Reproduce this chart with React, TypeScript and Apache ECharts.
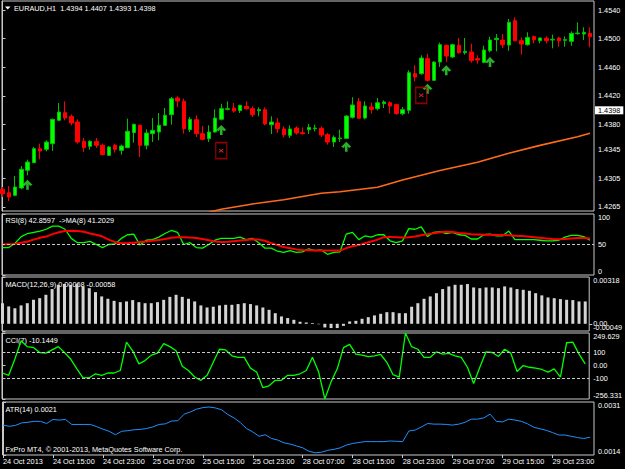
import React, { useEffect, useRef } from 'react';
import * as echarts from 'echarts';

const FONT = '"Liberation Sans", Arial, Helvetica, sans-serif';
const FS = 7.3;

// ---------- texts ----------
const symbolName = 'EURAUD,H1';
const headerQuote = [1.4394, 1.4407, 1.4393, 1.4398];
const rsiHeader = ['42.8597', '41.2029'];
const macdHeader = ['0.00068', '-0.00058'];
const cciHeader = '-10.1449';
const atrHeader = '0.0021';
const copyright = 'FxPro MT4, \u00A9 2001-2013, MetaQuotes Software Corp.';

// ---------- time axis ----------
const timeLabels = [
  '24 Oct 2013', '24 Oct 15:00', '24 Oct 23:00', '25 Oct 07:00', '25 Oct 15:00', '25 Oct 23:00',
  '28 Oct 07:00', '28 Oct 15:00', '28 Oct 23:00', '29 Oct 07:00', '29 Oct 15:00', '29 Oct 23:00',
];
const timeLabelBars = [0, 8, 16, 24, 32, 40, 48, 56, 64, 72, 80, 88];

// ---------- candles (H1) ----------
const opens = [
  1.42897, 1.42850, 1.42813, 1.42915, 1.43162, 1.43269, 1.43464, 1.43455, 1.43534, 1.43860,
  1.43967, 1.43916, 1.43837, 1.43567, 1.43497, 1.43562, 1.43511, 1.43371, 1.43511, 1.43441,
  1.43478, 1.43688, 1.43790, 1.43511, 1.43674, 1.43697, 1.43790, 1.43939, 1.44172, 1.44125,
  1.43730, 1.43869, 1.43674, 1.43604, 1.43697, 1.43874, 1.44013, 1.44032, 1.43995, 1.44055,
  1.44023, 1.43995, 1.44009, 1.43799, 1.43823, 1.43739, 1.43650, 1.43753, 1.43688, 1.43729,
  1.43743, 1.43748, 1.43660, 1.43557, 1.43604, 1.43608, 1.43902, 1.44120, 1.43892, 1.44046,
  1.44023, 1.44093, 1.44106, 1.44079, 1.43953, 1.43999, 1.44511, 1.44511, 1.44721, 1.44418,
  1.44674, 1.44907, 1.44744, 1.44907, 1.44804, 1.44814, 1.44721, 1.44670, 1.44832, 1.44986,
  1.44981, 1.44911, 1.45251, 1.44972, 1.44916, 1.45028, 1.44972, 1.45005, 1.44981, 1.45009,
  1.44977, 1.44963, 1.45070, 1.45065, 1.45074,
];
const highs = [
  1.42929, 1.42943, 1.43083, 1.43222, 1.43311, 1.43488, 1.43534, 1.43581, 1.43883, 1.44102,
  1.44125, 1.43944, 1.43874, 1.43613, 1.43581, 1.43613, 1.43534, 1.43502, 1.43534, 1.43520,
  1.43883, 1.43813, 1.43799, 1.43734, 1.43892, 1.43962, 1.44032, 1.44185, 1.44195, 1.44162,
  1.43906, 1.43930, 1.43781, 1.43790, 1.44013, 1.44092, 1.44125, 1.44102, 1.44078, 1.44125,
  1.44055, 1.44041, 1.44041, 1.43916, 1.43892, 1.43776, 1.43790, 1.43776, 1.43762, 1.43809,
  1.43799, 1.43776, 1.43683, 1.43650, 1.43729, 1.43930, 1.44181, 1.44172, 1.44125, 1.44106,
  1.44172, 1.44139, 1.44125, 1.44093, 1.44046, 1.44558, 1.44628, 1.44767, 1.44790, 1.44684,
  1.44944, 1.44916, 1.44930, 1.45009, 1.45009, 1.44930, 1.44767, 1.44902, 1.45028, 1.45065,
  1.45065, 1.45274, 1.45298, 1.45018, 1.45088, 1.45042, 1.45018, 1.45032, 1.45056, 1.45028,
  1.45032, 1.45102, 1.45228, 1.45158, 1.45158,
];
const lows = [
  1.42790, 1.42734, 1.42799, 1.42897, 1.43092, 1.43264, 1.43316, 1.43427, 1.43432, 1.43855,
  1.43860, 1.43790, 1.43534, 1.43418, 1.43450, 1.43474, 1.43371, 1.43362, 1.43409, 1.43381,
  1.43474, 1.43548, 1.43348, 1.43455, 1.43557, 1.43581, 1.43781, 1.43799, 1.44046, 1.43674,
  1.43697, 1.43627, 1.43581, 1.43557, 1.43688, 1.43860, 1.43999, 1.43967, 1.43962, 1.44009,
  1.43906, 1.43916, 1.43790, 1.43669, 1.43683, 1.43623, 1.43613, 1.43660, 1.43660, 1.43669,
  1.43706, 1.43627, 1.43520, 1.43488, 1.43557, 1.43604, 1.43883, 1.43883, 1.43874, 1.43953,
  1.43999, 1.44032, 1.43953, 1.43939, 1.43930, 1.43953, 1.44404, 1.44497, 1.44404, 1.44409,
  1.44604, 1.44674, 1.44730, 1.44790, 1.44777, 1.44665, 1.44651, 1.44656, 1.44809, 1.44823,
  1.44870, 1.44832, 1.44963, 1.44777, 1.44902, 1.44935, 1.44935, 1.44935, 1.44865, 1.44888,
  1.44888, 1.44902, 1.45056, 1.44981, 1.44879,
];
const closes = [
  1.42836, 1.42790, 1.42929, 1.43176, 1.43278, 1.43464, 1.43432, 1.43557, 1.43874, 1.43976,
  1.43892, 1.43823, 1.43557, 1.43478, 1.43567, 1.43511, 1.43381, 1.43488, 1.43455, 1.43501,
  1.43706, 1.43804, 1.43511, 1.43683, 1.43720, 1.43790, 1.43930, 1.44162, 1.44130, 1.43744,
  1.43874, 1.43674, 1.43595, 1.43697, 1.43892, 1.44023, 1.44023, 1.43990, 1.44069, 1.44023,
  1.43939, 1.44009, 1.43809, 1.43836, 1.43743, 1.43660, 1.43739, 1.43683, 1.43674, 1.43762,
  1.43753, 1.43655, 1.43557, 1.43622, 1.43613, 1.43920, 1.44074, 1.43888, 1.44060, 1.44013,
  1.44106, 1.44116, 1.44060, 1.43953, 1.44009, 1.44525, 1.44465, 1.44730, 1.44418, 1.44674,
  1.44916, 1.44758, 1.44916, 1.44804, 1.44823, 1.44697, 1.44702, 1.44842, 1.44981, 1.45005,
  1.44916, 1.45228, 1.44972, 1.44925, 1.45018, 1.44986, 1.45009, 1.44972, 1.44991, 1.44972,
  1.44986, 1.45074, 1.45079, 1.45088, 1.45028,
];

// moving average (orange), points read as [bar, price]
const maPoints = [
  [33, 1.42575], [35, 1.42618], [40, 1.42692], [45, 1.42750], [51, 1.42841], [54, 1.42863],
  [60, 1.42925], [64, 1.43027], [70, 1.43160], [76, 1.43274], [81, 1.43400], [86, 1.43510],
  [92, 1.43631], [94, 1.43679],
];
// signal arrows and close marks [bar, price]
const buyArrows = [[4, 1.42961], [35, 1.43725], [55, 1.43492], [68, 1.44301], [71, 1.44558], [78, 1.44674]];
const closeMarks = [[35, 1.43436], [67, 1.44209]];

// ---------- indicators ----------
const rsiValues = [
  45, 45, 52, 63, 68, 70, 72, 75, 80, 80, 75, 60, 53, 53, 55, 50, 45, 50, 51, 60,
  66, 67, 49, 57, 58, 62, 68, 73, 70, 50, 53, 45, 44, 50, 57, 60, 60, 60, 62, 58,
  60, 53, 44, 44, 39, 37, 40, 37, 38, 43, 40, 41, 34, 37, 38, 67, 70, 58, 64, 62,
  66, 66, 56, 53, 56, 76, 75, 79, 63, 70, 71, 68, 70, 66, 65, 59, 59, 66, 67, 64,
  64, 72, 58, 58, 58, 58, 57, 56, 56, 57, 62, 65, 65, 63, 57,
];
const rsiMaValues = [
  50, 50.5, 51, 53, 55, 58, 61, 63, 67, 70, 72, 72.5, 72, 71, 68, 66, 63, 58, 54, 52,
  52, 53, 54, 55, 56, 57.5, 59, 61, 62, 62, 61.5, 60.5, 59, 57, 55, 54, 54.5, 55.5, 56.5, 57.5,
  58.5, 58, 56, 52, 49, 46, 44, 42, 41, 40.5, 40, 40, 40, 40, 40, 44, 47, 49, 52, 55,
  58, 62, 62.5, 62, 61.5, 62, 63, 65, 67, 68.5, 70, 71, 70.5, 69, 68, 67, 66.5, 66, 66, 65.5,
  65.5, 65, 64.5, 64, 63, 62, 61, 60, 59, 58.5, 59, 60, 60.5, 60.5, 60,
];
const rsiLevels = [50];
const macdValues = [
  0.00140, 0.00118, 0.00106, 0.00125, 0.00140, 0.00163, 0.00174, 0.00197, 0.00236, 0.00265,
  0.00270, 0.00265, 0.00270, 0.00254, 0.00242, 0.00215, 0.00186, 0.00170, 0.00156, 0.00147,
  0.00152, 0.00161, 0.00147, 0.00140, 0.00140, 0.00147, 0.00163, 0.00183, 0.00197, 0.00183,
  0.00170, 0.00152, 0.00125, 0.00111, 0.00116, 0.00125, 0.00129, 0.00129, 0.00134, 0.00140,
  0.00134, 0.00125, 0.00111, 0.00095, 0.00072, 0.00050, 0.00039, 0.00027, 0.00014, 0.00009,
  0.00005, -0.00003, -0.00025, -0.00029, -0.00029, -0.00014, 0.00016, 0.00020, 0.00034, 0.00045,
  0.00057, 0.00068, 0.00079, 0.00079, 0.00072, 0.00072, 0.00116, 0.00140, 0.00170, 0.00186,
  0.00208, 0.00236, 0.00254, 0.00265, 0.00265, 0.00270, 0.00247, 0.00242, 0.00247, 0.00247,
  0.00242, 0.00254, 0.00247, 0.00236, 0.00231, 0.00224, 0.00208, 0.00193, 0.00179, 0.00174,
  0.00168, 0.00163, 0.00161, 0.00152, 0.00152,
];
const cciValues = [
  -57, -75, 50, 190, 145, 138, 100, 95, 120, 145, 100, 50, -25, -95, -93, -63, -75, -57, -57, -38,
  180, 113, 13, 38, 80, 95, 168, 145, 113, -5, -38, -88, -113, -75, 25, 125, 120, 75, 63, 63,
  -20, -50, -170, -155, -113, -113, -75, -75, -63, -38, 63, -50, -256.331, -125, -25, 138, 163, 88, 80, 68,
  75, 85, 25, -70, -88, 249.629, 145, 125, 63, 63, 105, 88, 93, 75, 63, -13, -138, -13, 105, 100,
  70, 125, 95, -45, 0, -13, -20, -30, -50, -25, -88, 175, 180, 88, 13,
];
const cciLevels = [100, -100];
const atrValues = [
  0.00236, 0.00232, 0.00235, 0.00243, 0.00245, 0.00248, 0.00248, 0.00241, 0.00254, 0.00252,
  0.00254, 0.00238, 0.00238, 0.00238, 0.00238, 0.00231, 0.00223, 0.00216, 0.00205, 0.00216,
  0.00218, 0.00221, 0.00222, 0.00225, 0.00230, 0.00238, 0.00240, 0.00249, 0.00250, 0.00271,
  0.00278, 0.00287, 0.00292, 0.00294, 0.00291, 0.00285, 0.00270, 0.00259, 0.00244, 0.00225,
  0.00214, 0.00200, 0.00205, 0.00193, 0.00188, 0.00179, 0.00175, 0.00169, 0.00163, 0.00152,
  0.00147, 0.00149, 0.00155, 0.00158, 0.00163, 0.00172, 0.00177, 0.00180, 0.00183, 0.00183,
  0.00183, 0.00183, 0.00185, 0.00184, 0.00183, 0.00217, 0.00220, 0.00230, 0.00241, 0.00239,
  0.00239, 0.00238, 0.00236, 0.00239, 0.00245, 0.00255, 0.00255, 0.00259, 0.00271, 0.00248,
  0.00246, 0.00255, 0.00252, 0.00248, 0.00240, 0.00229, 0.00224, 0.00219, 0.00212, 0.00204,
  0.00204, 0.00200, 0.00196, 0.00193, 0.00197,
];

// ---------- tick labels ----------
const priceTicks = [1.4265, 1.4305, 1.4345, 1.4380, 1.4420, 1.4460, 1.4500, 1.4540];
const rsiTicks = [0, 50, 100];
const rsiTickLabels = ['0', '50', '100'];
const macdTicks = [-0.00049, 0.00318];
const macdTickLabels = ['-0.00049', '0.00318'];
const macdZeroTick = [0];
const macdZeroLabel = ['0.00'];
const cciTicks = [-256.331, -100, 0, 100, 249.629];
const cciTickLabels = ['-256.331', '-100', '0.00', '100', '249.629'];
const atrTicks = [0.0014, 0.0031];
const atrTickLabels = ['0.0014', '0.0031'];

// ---------- layout ----------
const GRID_LEFT = 2;
const GRID_W = 592;
const X_MIN = -0.08;
const X_MAX = 94.64;
const PANELS = [
  { top: 1, height: 210 },
  { top: 214, height: 61 },
  { top: 277, height: 54 },
  { top: 333, height: 66 },
  { top: 402, height: 53 },
];
const PRICE_MIN = 1.42594;
const PRICE_MAX = 1.45526;
const FG = '#c8c8c8';

const labelFmt = (vals: number[], labels: string[]) => (v: number) => {
  const k = vals.findIndex((x) => Math.abs(x - v) < 1e-7);
  return k >= 0 ? labels[k] : '';
};

const idx = (arr: number[]) => arr.map((v, i) => [i, v]);

function buildOption() {
  const grid = PANELS.map((p) => ({
    left: GRID_LEFT,
    width: GRID_W,
    top: p.top,
    height: p.height,
    show: true,
    borderColor: FG,
    borderWidth: 1,
    backgroundColor: 'transparent',
    containLabel: false,
  }));

  const xAxis = PANELS.map((_, k) => {
    const bottom = k === PANELS.length - 1;
    return {
      type: 'value',
      gridIndex: k,
      min: X_MIN,
      max: X_MAX,
      show: bottom,
      splitLine: { show: false },
      axisLine: { show: false },
      axisTick: {
        show: bottom,
        length: 3,
        customValues: timeLabelBars,
        lineStyle: { color: FG },
      },
      axisLabel: {
        show: bottom,
        customValues: timeLabelBars,
        formatter: labelFmt(timeLabelBars, timeLabels),
        align: 'left',
        margin: 3,
        color: '#ffffff',
        fontSize: FS,
        fontFamily: FONT,
      },
    };
  });

  const yAx = (
    k: number, min: number, max: number, vals: number[], fmt: (v: number) => string,
    edgeAlign: boolean, showLine = true,
  ) => ({
    type: 'value',
    gridIndex: k,
    position: 'right',
    min,
    max,
    scale: true,
    splitLine: { show: false },
    axisLine: { show: showLine, lineStyle: { color: FG } },
    axisTick: { show: true, length: 3, customValues: vals, lineStyle: { color: FG } },
    axisLabel: {
      customValues: vals,
      formatter: fmt,
      color: '#ffffff',
      fontSize: FS,
      fontFamily: FONT,
      margin: 4,
      hideOverlap: false,
      showMinLabel: true,
      showMaxLabel: true,
      ...(edgeAlign ? { verticalAlignMinLabel: 'bottom', verticalAlignMaxLabel: 'top' } : {}),
    },
  });

  const macdMin = macdTicks[0];
  const macdMax = macdTicks[macdTicks.length - 1];
  const yAxis = [
    yAx(0, PRICE_MIN, PRICE_MAX, priceTicks, (v: number) => v.toFixed(4), false),
    yAx(1, rsiTicks[0], rsiTicks[rsiTicks.length - 1], rsiTicks, labelFmt(rsiTicks, rsiTickLabels), true),
    yAx(2, macdMin, macdMax, macdTicks, labelFmt(macdTicks, macdTickLabels), true),
    yAx(3, cciTicks[0], cciTicks[cciTicks.length - 1], cciTicks, labelFmt(cciTicks, cciTickLabels), true),
    yAx(4, atrTicks[0], atrTicks[atrTicks.length - 1], atrTicks, labelFmt(atrTicks, atrTickLabels), true),
    yAx(2, macdMin, macdMax, macdZeroTick, labelFmt(macdZeroTick, macdZeroLabel), false, false),
  ];

  const levelLine = (levels: number[]) => ({
    silent: true,
    symbol: ['none', 'none'],
    animation: false,
    label: { show: false },
    lineStyle: { color: FG, type: [3, 2], width: 1 },
    data: levels.map((l) => ({ yAxis: l })),
  });

  const series: any[] = [
    {
      type: 'line',
      name: 'MA',
      xAxisIndex: 0,
      yAxisIndex: 0,
      data: maPoints,
      symbol: 'none',
      clip: true,
      lineStyle: { color: '#ff6a1a', width: 1.6 },
      z: 2,
    },
    {
      type: 'candlestick',
      xAxisIndex: 0,
      yAxisIndex: 0,
      encode: { x: 0, y: [1, 2, 3, 4] },
      data: opens.map((o, i) => [i, o, closes[i], lows[i], highs[i]]),
      barWidth: 4,
      itemStyle: {
        color: '#00ff00',
        color0: '#ff0000',
        borderColor: '#00c000',
        borderColor0: '#ff0000',
        borderWidth: 1,
      },
      z: 3,
      markLine: {
        silent: true,
        symbol: ['none', 'none'],
        animation: false,
        lineStyle: { color: 'rgba(0,0,0,0)', width: 0 },
        label: {
          show: true,
          position: 'end',
          distance: 1,
          formatter: headerQuote[3].toFixed(4),
          color: '#000000',
          backgroundColor: '#ffffff',
          padding: [1, 3, 0, 3],
          fontSize: FS,
          fontFamily: FONT,
        },
        data: [{ yAxis: headerQuote[3] }],
      },
    },
    {
      type: 'scatter',
      xAxisIndex: 0,
      yAxisIndex: 0,
      data: buyArrows,
      symbol: 'path://M5,0L10,5L7.6,6.3L6.3,4.6L6.3,10L3.7,10L3.7,4.6L2.4,6.3L0,5Z',
      symbolSize: [10, 10],
      itemStyle: { color: '#33dd33' },
      z: 4,
    },
    {
      type: 'scatter',
      xAxisIndex: 0,
      yAxisIndex: 0,
      data: closeMarks,
      symbol: 'rect',
      symbolSize: [11, 16],
      itemStyle: { color: 'rgba(0,0,0,0)', borderColor: '#b40000', borderWidth: 1.5 },
      z: 4,
    },
    {
      type: 'scatter',
      xAxisIndex: 0,
      yAxisIndex: 0,
      data: closeMarks,
      symbol: 'path://M0,1.5L1.5,0L5,3.5L8.5,0L10,1.5L6.5,5L10,8.5L8.5,10L5,6.5L1.5,10L0,8.5L3.5,5Z',
      symbolSize: [5, 4],
      itemStyle: { color: '#ff3030' },
      z: 5,
    },
    {
      type: 'line',
      xAxisIndex: 1,
      yAxisIndex: 1,
      data: idx(rsiValues),
      symbol: 'none',
      lineStyle: { color: '#00ff00', width: 1.3 },
      markLine: levelLine(rsiLevels),
      z: 3,
    },
    {
      type: 'line',
      xAxisIndex: 1,
      yAxisIndex: 1,
      data: idx(rsiMaValues),
      symbol: 'none',
      lineStyle: { color: '#ff0000', width: 2 },
      z: 4,
    },
    {
      type: 'bar',
      xAxisIndex: 2,
      yAxisIndex: 2,
      data: idx(macdValues),
      barWidth: 3,
      itemStyle: { color: '#d4d4d4' },
      z: 3,
    },
    {
      type: 'line',
      xAxisIndex: 3,
      yAxisIndex: 3,
      data: idx(cciValues),
      symbol: 'none',
      lineStyle: { color: '#00ff00', width: 1.3 },
      markLine: levelLine(cciLevels),
      z: 3,
    },
    {
      type: 'line',
      xAxisIndex: 4,
      yAxisIndex: 4,
      data: idx(atrValues),
      symbol: 'none',
      lineStyle: { color: '#1e90ff', width: 1 },
      z: 3,
    },
  ];

  const txt = (x: number, y: number, text: string, fill = '#ffffff') => ({
    type: 'text',
    x,
    y,
    z: 1,
    silent: true,
    style: { text, fill, fontSize: FS, fontFamily: FONT, verticalAlign: 'middle', align: 'left' },
  });

  const graphic = [
    { type: 'polygon', z: 1, silent: true, shape: { points: [[5, 6.5], [10.5, 6.5], [7.75, 9.5]] }, style: { fill: '#ffffff' } },
    txt(14, 8, `${symbolName}  ${headerQuote.map((v) => v.toFixed(4)).join(' ')}`),
    txt(5.5, 220, `RSI(8) ${rsiHeader[0]}  ->MA(8) ${rsiHeader[1]}`),
    txt(5.5, 284, `MACD(12,26,9) ${macdHeader[0]} ${macdHeader[1]}`),
    txt(5.5, 340, `CCI(7) ${cciHeader}`),
    txt(5.5, 409.5, `ATR(14) ${atrHeader}`),
    txt(5.5, 449, copyright),
  ];

  return {
    animation: false,
    backgroundColor: '#000000',
    grid,
    xAxis,
    yAxis,
    series,
    graphic,
  };
}

export default function App() {
  const ref = useRef<HTMLDivElement | null>(null);
  useEffect(() => {
    document.body.style.margin = '0';
    document.body.style.background = '#000';
    if (!ref.current) return;
    const chart = echarts.init(ref.current, undefined, { renderer: 'svg' });
    chart.setOption(buildOption() as any);
    return () => chart.dispose();
  }, []);
  return (
    <div
      ref={ref}
      style={{ position: 'absolute', left: 0, top: 0, width: 625, height: 469, background: '#000' }}
    />
  );
}
